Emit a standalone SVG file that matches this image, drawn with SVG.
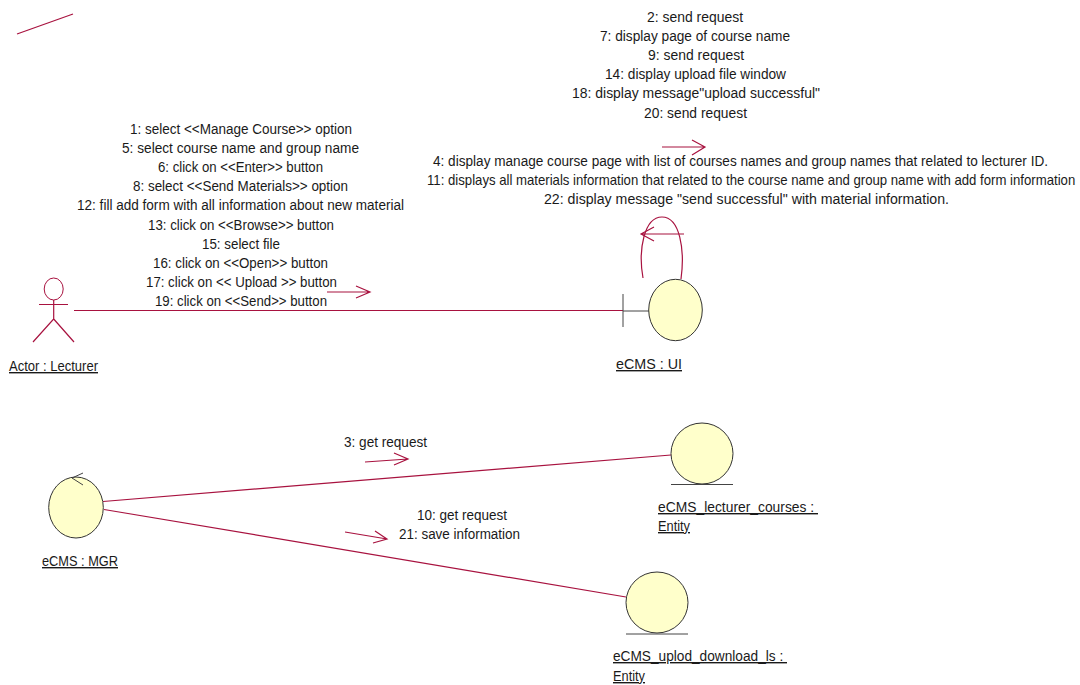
<svg xmlns="http://www.w3.org/2000/svg" width="1080" height="685" viewBox="0 0 1080 685">
<style>
text{font-family:"Liberation Sans",Arial,sans-serif;font-size:14px;fill:#1a1a1a}
.c{fill:none;stroke:#a8123f;stroke-width:1.2}
.o{fill:#ffffcb;stroke:#333;stroke-width:1}
.u{text-decoration:underline}
.k{fill:none;stroke:#444;stroke-width:1}
</style>
<rect width="1080" height="685" fill="#fff"/>
<g id="connectors">
<path class="c" d="M17 34L73 14"/>
<path class="c" d="M74 310.5H623"/>
<path class="c" d="M327 292H370M356 286L370 292L356 298"/>
<path class="c" d="M662 147H705M692 140L705 147L692 155"/>
<path class="c" d="M643 278C638 250 644 217 662 217C680 217 685 250 681 279"/>
<path class="c" d="M684 234H641M654 227L641 234L654 241"/>
<path class="c" d="M103 501.5L671 455"/>
<path class="c" d="M104 509.5L626 597"/>
<path class="c" d="M365 462L408 459M394 453L408 459L394 465"/>
<path class="c" d="M345 532L387 539M375 531L387 539L373 543"/>
</g>
<g id="labels-actor-ui">
<text lengthAdjust="spacingAndGlyphs" x="130" y="134" textLength="222">1: select &lt;&lt;Manage Course&gt;&gt; option</text>
<text lengthAdjust="spacingAndGlyphs" x="122" y="153" textLength="237">5: select course name and group name</text>
<text lengthAdjust="spacingAndGlyphs" x="158" y="172" textLength="165">6: click on &lt;&lt;Enter&gt;&gt; button</text>
<text lengthAdjust="spacingAndGlyphs" x="133" y="191" textLength="215">8: select &lt;&lt;Send Materials&gt;&gt; option</text>
<text lengthAdjust="spacingAndGlyphs" x="77" y="210" textLength="327">12: fill add form with all information about new material</text>
<text lengthAdjust="spacingAndGlyphs" x="148" y="230" textLength="186">13: click on &lt;&lt;Browse&gt;&gt; button</text>
<text lengthAdjust="spacingAndGlyphs" x="202" y="249" textLength="78">15: select file</text>
<text lengthAdjust="spacingAndGlyphs" x="153" y="268" textLength="175">16: click on &lt;&lt;Open&gt;&gt; button</text>
<text lengthAdjust="spacingAndGlyphs" x="146" y="287" textLength="191">17: click on &lt;&lt; Upload &gt;&gt; button</text>
<text lengthAdjust="spacingAndGlyphs" x="155" y="306" textLength="172">19: click on &lt;&lt;Send&gt;&gt; button</text>
</g>
<g id="labels-ui-mgr">
<text lengthAdjust="spacingAndGlyphs" x="647" y="22" textLength="96">2: send request</text>
<text lengthAdjust="spacingAndGlyphs" x="600" y="41" textLength="190">7: display page of course name</text>
<text lengthAdjust="spacingAndGlyphs" x="648" y="60" textLength="96">9: send request</text>
<text lengthAdjust="spacingAndGlyphs" x="605" y="79" textLength="181">14: display upload file window</text>
<text lengthAdjust="spacingAndGlyphs" x="572" y="98" textLength="248">18: display message"upload successful"</text>
<text lengthAdjust="spacingAndGlyphs" x="644" y="118" textLength="103">20: send request</text>
</g>
<g id="labels-ui-self">
<text lengthAdjust="spacingAndGlyphs" x="433" y="166" textLength="615">4: display manage course page with list of courses names and group names that related to lecturer ID.</text>
<text lengthAdjust="spacingAndGlyphs" transform="matrix(.93 0 0 1 427 185)" x="0" y="0" textLength="697">11: displays all materials information that related to the course name and group name with add form information</text>
<text lengthAdjust="spacingAndGlyphs" x="544" y="204" textLength="405">22: display message "send successful" with material information.</text>
</g>
<g id="labels-mgr">
<text lengthAdjust="spacingAndGlyphs" x="344" y="447" textLength="83">3: get request</text>
<text lengthAdjust="spacingAndGlyphs" x="417" y="520" textLength="90">10: get request</text>
<text lengthAdjust="spacingAndGlyphs" x="399" y="539" textLength="121">21: save information</text>
</g>
<g id="actor-lecturer">
<ellipse cx="53.7" cy="289" rx="9.5" ry="11" fill="#fff" stroke="#a8123f" stroke-width="1"/>
<path class="c" d="M39 304.5H68M53.7 300V319L33 342M53.7 319L74 342"/>
<text lengthAdjust="spacingAndGlyphs" class="u" x="9" y="371" textLength="89">Actor : Lecturer</text>
</g>
<g id="ecms-ui">
<path class="k" d="M623 294V327" stroke-width="1.2"/>
<path class="k" d="M623 311H649"/>
<ellipse class="o" cx="675.5" cy="310" rx="26.8" ry="30.7"/>
<text lengthAdjust="spacingAndGlyphs" class="u" x="616" y="369" textLength="66">eCMS : UI</text>
</g>
<g id="ecms-mgr">
<ellipse class="o" cx="76" cy="507.5" rx="27.3" ry="30.5"/>
<path class="k" d="M83 473L72 478L83 485"/>
<text lengthAdjust="spacingAndGlyphs" class="u" x="42" y="566" textLength="76">eCMS : MGR</text>
</g>
<g id="ecms-lecturer-courses">
<ellipse class="o" cx="702" cy="453.5" rx="31" ry="30.5"/>
<path class="k" d="M671 484.5H733"/>
<text lengthAdjust="spacingAndGlyphs" class="u" x="658" y="512" textLength="160" xml:space="preserve">eCMS_lecturer_courses : </text>
<text lengthAdjust="spacingAndGlyphs" class="u" x="658" y="531" textLength="32">Entity</text>
</g>
<g id="ecms-uplod-download">
<ellipse class="o" cx="657" cy="602.5" rx="31" ry="30.5"/>
<path class="k" d="M626 634H688"/>
<text lengthAdjust="spacingAndGlyphs" class="u" x="613" y="661" textLength="174" xml:space="preserve">eCMS_uplod_download_ls : </text>
<text lengthAdjust="spacingAndGlyphs" class="u" x="613" y="681" textLength="32">Entity</text>
</g>
</svg>
